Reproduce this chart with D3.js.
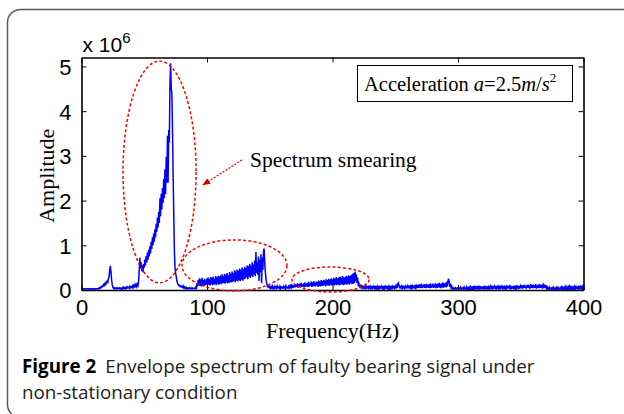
<!DOCTYPE html>
<html>
<head>
<meta charset="utf-8">
<script src="https://cdn.jsdelivr.net/npm/d3@7"></script>
<style>
  html, body { margin: 0; padding: 0; background: #ffffff; }
  svg { display: block; }
</style>
</head>
<body>
<svg id="chart" width="624" height="414"></svg>
<script>
// ---------- DATA ----------
const freqStart = 0;      // Hz
const freqStep = 0.5;     // Hz between samples
const ampUnit = 1e4;      // amplitude values below are in units of 1e4
const amplitude = [
  // 0-9.5
  3,2,3,2,3,3,2,3,2,3,3,2,3,2,3,3,2,3,2,3,
  // 10-19.5
  3,2,3,2,3,3,2,4,3,5,4,7,6,9,8,12,10,14,12,17,
  // 20-29.5
  15,20,18,26,30,45,54,40,22,12,6,4,3,5,3,4,3,5,3,4,
  // 30-39.5
  3,5,3,4,2,5,3,6,4,5,3,6,4,7,5,6,4,8,5,7,
  // 40-49.5
  6,9,5,10,7,11,6,12,8,13,10,20,45,72,48,62,42,55,40,58,
  // 50-59.5
  50,68,55,76,62,84,68,90,75,98,82,108,92,118,100,126,108,136,118,148,
  // 60-69.5
  130,162,140,175,150,205,165,215,180,228,195,248,205,270,215,298,240,345,240,358,
  // 70-79.5
  330,460,507,450,440,360,260,170,90,50,38,30,20,15,12,10,11,8,9,7,
  // 80-89.5
  8,6,9,5,7,4,6,3,5,3,4,3,5,3,4,3,5,3,4,3,
  // 90-99.5
  4,3,6,4,15,8,22,10,26,9,24,8,27,11,22,9,25,10,23,12,
  // 100-109.5
  26,11,28,12,24,10,29,13,27,11,30,12,25,13,31,11,28,14,32,12,
  // 110-119.5
  30,14,33,13,35,15,31,16,36,14,34,17,38,15,33,16,40,18,36,17,
  // 120-129.5
  41,18,38,20,44,17,42,21,46,19,43,22,48,20,45,23,50,21,47,24,
  // 130-139.5
  52,25,49,28,55,24,53,30,58,27,54,32,62,29,57,35,66,31,85,38,
  // 140-149.5
  62,34,75,20,68,40,80,15,72,45,86,93,60,40,25,15,10,7,9,6,
  // 150-159.5
  8,4,7,5,9,4,6,3,8,5,7,4,9,5,6,4,8,3,7,5,
  // 160-169.5
  6,4,8,5,7,3,9,5,6,4,8,5,9,4,10,6,12,5,11,6,
  // 170-179.5
  13,6,12,7,15,5,13,8,14,6,16,7,13,8,15,6,17,7,14,8,
  // 180-189.5
  16,7,18,8,15,9,19,7,17,8,20,9,16,8,19,10,18,7,21,9,
  // 190-199.5
  19,8,22,10,20,9,23,11,21,8,24,10,22,11,25,9,23,12,26,10,
  // 200-209.5
  24,11,27,10,25,12,29,11,26,13,28,10,30,12,27,13,31,11,29,12,
  // 210-219.5
  28,13,32,12,30,14,33,12,31,15,34,13,36,14,38,15,41,20,35,16,
  // 220-229.5
  28,12,15,8,10,6,9,5,8,4,7,5,9,4,8,5,7,4,8,5,
  // 230-239.5
  8,3,7,4,9,3,8,4,7,3,9,4,8,3,7,4,9,3,8,4,
  // 240-249.5
  7,3,9,4,8,3,9,4,7,3,8,4,9,3,7,4,8,3,9,4,
  // 250-259.5
  8,3,9,5,14,16,10,4,9,3,8,4,10,3,9,4,8,3,10,4,
  // 260-269.5
  9,4,10,3,8,4,11,5,9,4,10,3,12,5,9,4,11,5,13,4,
  // 270-279.5
  12,5,14,4,11,6,13,5,12,4,14,6,11,5,13,4,15,5,12,6,
  // 280-289.5
  14,5,12,6,15,4,13,5,14,6,16,5,13,4,15,6,17,5,14,7,
  // 290-299.5
  16,6,18,8,20,25,18,7,14,5,8,3,5,2,4,3,5,2,4,3,
  // 300-309.5
  5,2,4,3,6,2,4,3,5,2,6,3,4,2,7,3,5,2,6,3,
  // 310-319.5
  7,3,8,2,6,3,9,4,7,3,8,2,7,3,9,4,6,3,8,2,
  // 320-329.5
  8,3,7,4,9,2,8,3,7,3,9,4,8,2,7,3,9,3,8,4,
  // 330-339.5
  7,3,9,2,8,4,7,3,10,3,8,4,9,2,7,3,9,4,8,3,
  // 340-349.5
  9,3,8,4,10,2,8,3,9,4,7,3,10,4,8,3,9,2,10,4,
  // 350-359.5
  9,4,11,3,10,5,12,4,9,3,11,5,12,4,10,3,13,5,11,4,
  // 360-369.5
  12,4,11,5,13,3,10,5,12,4,13,5,11,4,12,3,15,5,12,4,
  // 370-379.5
  11,4,7,3,5,2,6,3,4,2,5,3,6,2,4,3,5,2,6,3,
  // 380-389.5
  5,2,4,3,6,2,7,3,5,2,6,3,8,3,6,2,7,3,8,3,
  // 390-399.5
  7,3,8,2,6,3,8,3,7,2,8,3,7,3,9,2,7,3,8,3,
  // 400
  6
];

const xDomain = [0, 400];
const yDomain = [0, 5.2e6];
const xTicks = [0, 100, 200, 300, 400];
const yTicks = [0, 1e6, 2e6, 3e6, 4e6, 5e6];
const yTickLabels = ["0", "1", "2", "3", "4", "5"];
const yExponent = "6";

const xLabel = "Frequency(Hz)";
const yLabel = "Amplitude";
const legendParts = ["Acceleration ", "a", "=2.5", "m", "/", "s", "2"];
const annotationText = "Spectrum smearing";

// ellipses: [centre Hz, centre amplitude, radius Hz, radius amplitude]
const ellipseCx = [62.2, 121.9, 198.4];
const ellipseCy = [2.64e6, 0.55e6, 0.235e6];
const ellipseRx = [29.1, 41.8, 30.7];
const ellipseRy = [2.48e6, 0.57e6, 0.28e6];

// arrow [from Hz, from amp] -> [to Hz, to amp]; label anchor
const arrowFrom = [127.9, 2.91e6];
const arrowTo = [96.8, 2.35e6];
const annotationAt = [134.3, 2.75e6];

const captionBold = "Figure 2";
const captionLine1 = "Envelope spectrum of faulty bearing signal under";
const captionLine2 = "non-stationary condition";

// ---------- DRAW ----------
const svg = d3.select("#chart");
const W = 624, H = 414;
svg.append("rect").attr("width", W).attr("height", H).attr("fill", "#ffffff");

// outer frame (rounded, open on right)
svg.append("rect")
  .attr("x", 7.5).attr("y", 9.5).attr("width", 700).attr("height", 408)
  .attr("rx", 13).attr("ry", 13)
  .attr("fill", "none").attr("stroke", "#5a5a5a").attr("stroke-width", 1.5);

const L = 81.5, R = 583.5, T = 57.5, B = 290;
const x = d3.scaleLinear().domain(xDomain).range([L, R]);
const y = d3.scaleLinear().domain(yDomain).range([B, T]);

svg.append("defs").append("clipPath").attr("id", "plotclip")
  .append("rect").attr("x", L).attr("y", T).attr("width", R - L).attr("height", B - T);

// spectrum line
const line = d3.line()
  .x((d, i) => x(freqStart + i * freqStep))
  .y(d => y(d * ampUnit));
svg.append("path")
  .datum(amplitude)
  .attr("clip-path", "url(#plotclip)")
  .attr("fill", "none")
  .attr("stroke", "#0000ff")
  .attr("stroke-width", 1.5)
  .attr("stroke-linejoin", "miter")
  .attr("d", line);

// axes (MATLAB box style, inward ticks)
const tickFont = "'Liberation Sans', Arial, sans-serif";
const axB = svg.append("g").attr("transform", `translate(0,${B})`)
  .call(d3.axisBottom(x).tickValues(xTicks).tickSizeInner(-5).tickSizeOuter(0).tickPadding(14));
const axT = svg.append("g").attr("transform", `translate(0,${T})`)
  .call(d3.axisTop(x).tickValues(xTicks).tickSizeInner(-5).tickSizeOuter(0).tickFormat(""));
const axL = svg.append("g").attr("transform", `translate(${L},0)`)
  .call(d3.axisLeft(y).tickValues(yTicks).tickSizeInner(-5).tickSizeOuter(0).tickPadding(10)
    .tickFormat((d, i) => yTickLabels[i]));
const axR = svg.append("g").attr("transform", `translate(${R},0)`)
  .call(d3.axisRight(y).tickValues(yTicks).tickSizeInner(-5).tickSizeOuter(0).tickFormat(""));
[axB, axT, axL, axR].forEach(g => {
  g.selectAll(".domain").attr("stroke", "#000").attr("stroke-width", 1.6);
  g.selectAll(".tick line").attr("stroke", "#000").attr("stroke-width", 1);
  g.selectAll("text").attr("font-family", tickFont).attr("font-size", 22).attr("fill", "#000");
});
axB.selectAll("text").attr("dy", "0.5em");
axL.selectAll("text").attr("dy", "0.36em");

// exponent label
const ex = svg.append("text").attr("x", L + 1).attr("y", 52)
  .attr("font-family", tickFont).attr("font-size", 21).attr("fill", "#000");
ex.append("tspan").text("x 10");
ex.append("tspan").attr("dy", -9).attr("font-size", 15).text(yExponent);

// axis labels
const serif = "'Liberation Serif', 'Times New Roman', serif";
svg.append("text").attr("x", (L + R) / 2).attr("y", 338)
  .attr("text-anchor", "middle").attr("font-family", serif).attr("font-size", 22)
  .attr("fill", "#000").text(xLabel);
svg.append("text").attr("transform", `translate(54,${(T + B) / 2 + 2}) rotate(-90)`)
  .attr("text-anchor", "middle").attr("font-family", serif).attr("font-size", 22)
  .attr("fill", "#000").text(yLabel);

// legend box
svg.append("rect").attr("x", 357.5).attr("y", 65.5).attr("width", 215).attr("height", 36)
  .attr("fill", "#fff").attr("stroke", "#000").attr("stroke-width", 1);
const lg = svg.append("text").attr("x", 364).attr("y", 91)
  .attr("font-family", serif).attr("font-size", 20.5).attr("fill", "#000");
lg.append("tspan").text(legendParts[0]);
lg.append("tspan").attr("font-style", "italic").text(legendParts[1]);
lg.append("tspan").text(legendParts[2]);
lg.append("tspan").attr("font-style", "italic").text(legendParts[3]);
lg.append("tspan").text(legendParts[4]);
lg.append("tspan").attr("font-style", "italic").text(legendParts[5]);
lg.append("tspan").attr("dy", -9).attr("font-size", 13).text(legendParts[6]);

// ellipses
const ell = svg.append("g");
ellipseCx.forEach((cx, i) => {
  ell.append("ellipse")
    .attr("cx", x(cx)).attr("cy", y(ellipseCy[i]))
    .attr("rx", x(cx + ellipseRx[i]) - x(cx))
    .attr("ry", y(0) - y(ellipseRy[i]))
    .attr("fill", "none").attr("stroke", "#ff0000")
    .attr("stroke-width", 1.5).attr("stroke-dasharray", "3,2.2");
});

// arrow annotation
const defs = svg.select("defs");
defs.append("marker").attr("id", "arrowhead").attr("viewBox", "0 0 10 10")
  .attr("refX", 9).attr("refY", 5).attr("markerWidth", 8).attr("markerHeight", 8)
  .attr("markerUnits", "userSpaceOnUse").attr("orient", "auto")
  .append("path").attr("d", "M0,1 L10,5 L0,9 Z").attr("fill", "#cc0000");
svg.append("line")
  .attr("x1", x(arrowFrom[0])).attr("y1", y(arrowFrom[1]))
  .attr("x2", x(arrowTo[0])).attr("y2", y(arrowTo[1]))
  .attr("stroke", "#cc0000").attr("stroke-width", 1.2).attr("stroke-dasharray", "2,1.5")
  .attr("marker-end", "url(#arrowhead)");
svg.append("text").attr("x", x(annotationAt[0])).attr("y", y(annotationAt[1]))
  .attr("font-family", serif).attr("font-size", 21.5).attr("fill", "#000").text(annotationText);

// caption
const capFont = "'Open Sans', 'Noto Sans', sans-serif";
const c1 = svg.append("text").attr("x", 22).attr("y", 373)
  .attr("font-family", capFont).attr("font-size", 18.8).attr("fill", "#222");
c1.append("tspan").attr("font-weight", "bold").attr("fill", "#000").text(captionBold);
c1.append("tspan").attr("dx", 9).text(captionLine1);
svg.append("text").attr("x", 22).attr("y", 399)
  .attr("font-family", capFont).attr("font-size", 18.8).attr("fill", "#222").text(captionLine2);
</script>
</body>
</html>
